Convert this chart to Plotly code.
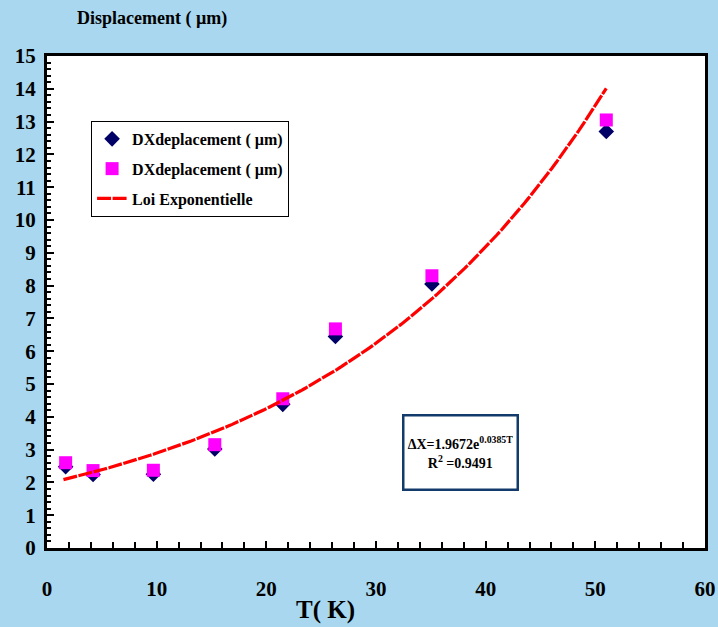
import numpy as np
import plotly.graph_objects as go

# Data
T_vals = [1.7, 4.2, 9.7, 15.3, 21.5, 26.3, 35.1, 51.0]
dx_series1 = [2.48, 2.24, 2.25, 3.02, 4.38, 6.45, 8.05, 12.7]
dx_series2 = [2.60, 2.36, 2.37, 3.15, 4.55, 6.68, 8.30, 13.05]
fit_a = 1.9672
fit_b = 0.0385
fit_range = [1.5, 51.0]
x_ticks = [0, 10, 20, 30, 40, 50, 60]

fit_x = list(np.linspace(fit_range[0], fit_range[1], 120))
fit_y = [fit_a * np.exp(fit_b * t) for t in fit_x]

font_fam = "Liberation Serif"

fig = go.Figure()
fig.add_trace(go.Scatter(
    x=T_vals, y=dx_series1, mode="markers", name="DXdeplacement ( µm)",
    legendgroup="a",
    marker=dict(symbol="diamond", size=12, color="#000066"),
))
fig.add_trace(go.Scatter(
    x=T_vals, y=dx_series2, mode="markers", name="DXdeplacement ( µm)",
    legendgroup="b",
    marker=dict(symbol="square", size=13, color="#ff00ff"),
))
fig.add_trace(go.Scatter(
    x=fit_x, y=fit_y, mode="lines", name="Loi Exponentielle",
    legendgroup="c",
    line=dict(color="#ff0000", width=3.2, dash="14px,1.5px"),
))

fig.update_layout(
    width=718, height=627,
    margin=dict(l=47, r=13, t=56, b=79),
    paper_bgcolor="#a8d7ef",
    plot_bgcolor="#ffffff",
    font=dict(family=font_fam, color="#000000"),
    showlegend=True,
    legend=dict(
        x=0.067, y=0.868, xanchor="left", yanchor="top",
        bgcolor="#ffffff", bordercolor="#000000", borderwidth=1,
        font=dict(family=font_fam, size=16, color="#000000", weight="bold"),
        tracegroupgap=6,
    ),
    xaxis=dict(
        range=[0, 60], tickvals=x_ticks, ticks="inside", ticklen=7,
        tickcolor="#000000", tickwidth=1.5,
        minor=dict(dtick=2, ticks="inside", ticklen=6, tickcolor="#000000"),
        showgrid=False, zeroline=False, automargin=False,
        showline=True, linecolor="#000000", linewidth=3, mirror=True,
        tickfont=dict(family=font_fam, size=21, weight="bold"),
        ticklabelstandoff=20,
    ),
    yaxis=dict(
        range=[0, 15], dtick=1, ticks="inside", ticklen=7,
        tickcolor="#000000", tickwidth=1.5,
        minor=dict(dtick=0.2, ticks="inside", ticklen=4, tickcolor="#000000"),
        showgrid=False, zeroline=False, automargin=False,
        showline=True, linecolor="#000000", linewidth=3, mirror=True,
        tickfont=dict(family=font_fam, size=21, weight="bold"),
        ticklabelstandoff=4,
    ),
)

fig.add_annotation(
    xref="paper", yref="paper", x=(75 - 47) / 658, y=(548 - 18) / 492,
    xanchor="left", yanchor="middle", showarrow=False,
    text="Displacement ( µm)",
    font=dict(family=font_fam, size=18, weight="bold"),
)
fig.add_annotation(
    xref="paper", yref="paper", x=(325 - 47) / 658, y=(548 - 610) / 492,
    xanchor="center", yanchor="middle", showarrow=False,
    text="T( K)",
    font=dict(family=font_fam, size=25, weight="bold"),
)
fig.add_annotation(
    xref="x", yref="y", x=37.7, y=2.9,
    xanchor="center", yanchor="middle", showarrow=False,
    text="ΔX=1.9672e<sup>0.0385T</sup><br>R<sup>2</sup> =0.9491",
    font=dict(family=font_fam, size=14, weight="bold"),
    width=110, height=70, borderpad=1,
    bordercolor="#123a6a", borderwidth=2.5,
    bgcolor="#ffffff", align="center", valign="middle",
)

fig.write_html("out.html")
